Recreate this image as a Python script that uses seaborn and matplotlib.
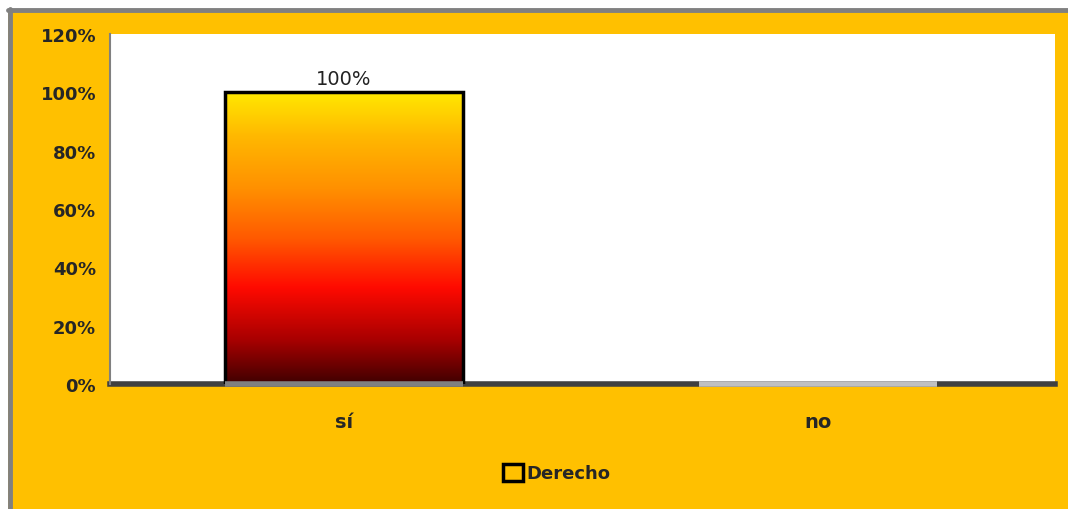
import numpy as np
import pandas as pd
import matplotlib
matplotlib.use("Agg")
import matplotlib.pyplot as plt
from matplotlib.colors import LinearSegmentedColormap
from matplotlib.patches import Rectangle
import seaborn as sns

categories = ["sí", "no"]
values = [100, 0]
series_name = "Derecho"
y_ticks = [0, 20, 40, 60, 80, 100, 120]

BG = "#FFC000"

sns.set_style("white")
plt.rcParams["font.family"] = ["DejaVu Sans"]

fig = plt.figure(figsize=(10.68, 5.10), dpi=100, facecolor="white")

# yellow chart frame with grey border on top/left
W, H = 1068, 510
frame = Rectangle((8 / W, 0), 1 - 8 / W, 1 - 10 / H, transform=fig.transFigure,
                  facecolor=BG, edgecolor="none", zorder=-2)
fig.patches.append(frame)
fig.lines.append(plt.Line2D([8 / W, 1], [1 - 11 / H, 1 - 11 / H], transform=fig.transFigure,
                            color="#808080", lw=3.5, zorder=-1))
fig.lines.append(plt.Line2D([9.5 / W, 9.5 / W], [0, 1 - 10 / H], transform=fig.transFigure,
                            color="#808080", lw=3.5, zorder=-1))

ax = fig.add_axes([110 / W, 1 - 385 / H, (1055 - 110) / W, (385 - 35) / H])
ax.set_facecolor("white")

df = pd.DataFrame({"cat": categories, "val": values})
sns.barplot(data=df, x="cat", y="val", ax=ax, width=0.502, color=BG,
            edgecolor="black", linewidth=2.5, zorder=3)

cmap = LinearSegmentedColormap.from_list(
    "fire", [(0.0, "#400000"), (0.15, "#a80000"), (0.33, "#ff0a00"),
             (0.5, "#ff5a00"), (0.67, "#ff9000"), (0.85, "#ffb800"),
             (1.0, "#ffe800")])
grad = np.linspace(0, 1, 256).reshape(-1, 1)

for patch, v in zip(ax.patches, values):
    x0, y0 = patch.get_x(), patch.get_y()
    w, h = patch.get_width(), patch.get_height()
    if h > 0:
        patch.set_facecolor("none")
        im = ax.imshow(grad, cmap=cmap, origin="lower", aspect="auto",
                       extent=[x0, x0 + w, y0, y0 + h], zorder=2)
        im.set_clip_path(patch)
        ax.text(x0 + w / 2, h + 1.5, f"{v}%", ha="center", va="bottom",
                fontsize=14, color="#222222")
        ax.plot([x0, x0 + w], [0, 0], color="#808080", lw=4, zorder=4,
                solid_capstyle="butt", clip_on=False)
    else:
        patch.set_edgecolor("none")
        ax.plot([x0, x0 + w], [0, 0], color="#C0C0C0", lw=4, zorder=4,
                solid_capstyle="butt", clip_on=False)

ax.set_xlim(-0.494, 1.5)
ax.set_ylim(0, 120)
ax.set_yticks(y_ticks)
ax.set_yticklabels([f"{t}%" for t in y_ticks], fontsize=13, fontweight="bold")
ax.tick_params(axis="y", length=0, pad=10)
ax.tick_params(axis="x", length=0, pad=20, labelsize=14)
for lab in ax.get_xticklabels():
    lab.set_fontweight("bold")
ax.set_xlabel("")
ax.set_ylabel("")

for s in ["top", "right"]:
    ax.spines[s].set_visible(False)
ax.spines["left"].set_color("#808080")
ax.spines["left"].set_linewidth(1.5)
ax.spines["bottom"].set_color("#404040")
ax.spines["bottom"].set_linewidth(4)
ax.spines["bottom"].set_zorder(1)

handle = Rectangle((0, 0), 1, 1, facecolor=BG, edgecolor="black", linewidth=2.5)
fig.legend([handle], [series_name], loc="center", bbox_to_anchor=(557 / W, 1 - 474 / H),
           frameon=False, handlelength=1.1, handleheight=1.1, handletextpad=0.2,
           prop={"weight": "bold", "size": 13})

fig.savefig("out.png", dpi=100, facecolor="white")
